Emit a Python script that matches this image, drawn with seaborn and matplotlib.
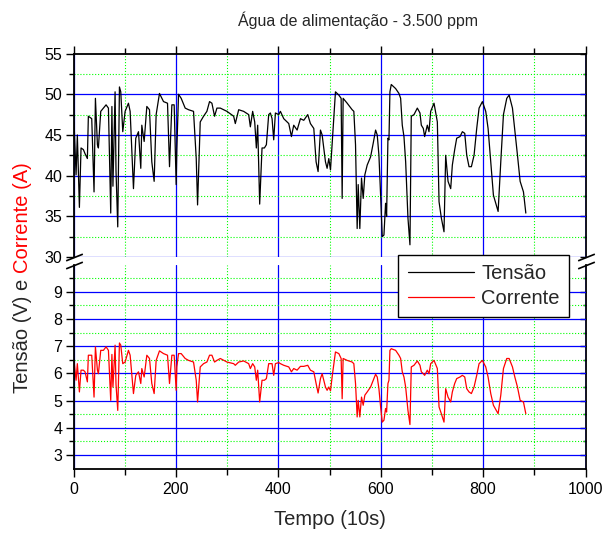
import matplotlib
matplotlib.use('Agg')
import matplotlib.pyplot as plt
from matplotlib.ticker import MultipleLocator, FixedLocator
import numpy as np
import pandas as pd
import seaborn as sns

# dados (tempo em unidades de 10 s)
tempo = [1, 5, 7.5, 11.5, 14.7, 19.3, 22.5, 27.1, 29, 35.6,
         40.1, 42.8, 46.7, 48.6, 53.2, 58.4, 63.6, 68.2, 72.7, 75,
         77, 81.2, 83, 86.4, 89.7, 92.3, 96.2, 100.8, 107.3, 110.6,
         117.1, 121.6, 126.9, 131.4, 133.4, 138, 143.2, 148.4, 152.9, 157.5,
         161.4, 167.9, 175.8, 183.6, 187.5, 192.1, 196.6, 200.5, 201.8, 205.1,
         210.3, 218.1, 224.7, 234.4, 239.7, 242.3, 247.5, 254, 260.5, 265.7,
         270.3, 275.5, 280.1,
         286.7, 299.7, 312.8, 316, 322.6, 332.3, 342.1, 345.4, 349.9, 353.9,
         357.1, 359.7, 363.6, 368.2, 372.8, 376.7, 381.2, 384.5, 387.8, 391,
         394.3, 400.8, 404.1, 410.6, 420.4, 425.6, 430.1, 436.7, 443.2, 449.7,
         457.5, 462.7, 469.3, 473.8, 477.7, 482.3, 485.6, 492.1, 495.3, 498.6,
         501.9, 505.1, 511.6, 518.2, 522.7, 524.7, 526.6, 534.5, 544.2, 547.5,
         550.8, 554, 556, 559.2, 562.5, 565.8, 569, 573.6,
         580.2, 585.4, 590, 593.2, 596.5, 599.8, 603, 606.3, 609.5, 611.5,
         614.1, 616.1, 618, 620.6, 629.1, 635.6, 638.9, 642.1, 645.4, 648.7,
         653.2, 657.1, 659.7, 665, 671.5, 676.7, 679.3, 683.2, 685.8, 691,
         694.3, 697.6, 704.1, 710.6, 713.9, 718.4, 723.6, 726.9, 731.5, 736.7,
         739.9, 744.5, 748.4, 754.9, 759.5, 764.1, 768, 772.5, 777.1, 782.3,
         787.5, 792.1, 798.6, 805.1, 809.7, 814.9, 820.1, 829.3, 834.5, 839.7,
         846.2, 850.8, 857.3, 861.9, 867.1, 872.3, 878.8, 883.4]

tensao = [46.6, 40.1, 45.0, 36.1, 43.4, 43.2, 42.7, 42.1, 47.3, 47.0,
          38.0, 49.5, 43.8, 43.4, 47.9, 48.3, 48.7, 48.3, 35.4, 48.5,
          38.7, 50.3, 40.6, 33.7, 50.9, 50.3, 45.4, 47.9, 48.9, 47.9,
          38.4, 44.6, 45.4, 40.9, 46.2, 44.2, 48.5, 48.1, 41.7, 39.3,
          47.5, 50.1, 49.1, 48.9, 41.1, 48.7, 48.7, 38.9, 43.2, 50.0,
          49.5, 48.3, 48.1, 47.9, 42.1, 36.4, 46.6, 47.3, 47.9, 49.1,
          48.9, 47.3, 48.3,
          48.3, 47.9, 47.3, 46.4, 48.1, 47.9, 47.5, 46.0, 47.9, 46.6,
          43.4, 46.2, 36.5, 43.4, 43.4, 43.8, 47.5, 47.7, 47.0, 44.4,
          47.7, 47.5, 47.9, 47.0, 46.4, 44.8, 46.2, 45.6, 47.0, 46.8,
          47.5, 46.4, 45.8, 41.7, 40.5, 45.6, 45.0, 41.7, 40.9, 42.1,
          40.7, 43.8, 50.3, 49.9, 49.5, 37.2, 49.5, 48.9, 48.1, 47.9,
          43.8, 33.5, 38.9, 33.5, 39.7, 37.2, 40.1, 41.3,
          42.3, 44.0, 45.6, 45.0, 42.5, 37.6, 32.5, 32.7, 36.6, 35.0,
          44.6, 44.4, 50.3, 51.2, 50.7, 50.1, 49.5, 46.2, 44.8, 41.7,
          34.8, 31.5, 47.3, 47.5, 48.3, 47.7, 46.2, 45.8, 44.8, 46.2,
          45.4, 47.9, 48.9, 46.6, 36.8, 34.8, 33.1, 42.5, 39.3, 38.4,
          41.3, 43.2, 44.6, 44.8, 45.4, 45.2, 42.5, 41.1, 41.1, 42.5,
          45.8, 48.3, 49.1, 47.9, 45.8, 41.7, 37.6, 35.6, 41.7, 47.5,
          49.5, 49.9, 48.3, 45.6, 42.5, 39.3, 38.0, 35.4]

corrente = [6.48, 5.75, 6.36, 5.32, 6.12, 6.12, 6.06, 5.69, 6.67, 6.67,
            5.13, 6.98, 6.12, 5.99, 6.85, 6.85, 6.98, 6.85, 5.01, 6.70,
            5.50, 7.04, 5.60, 4.64, 7.12, 7.04, 6.36, 6.42, 6.85, 6.67,
            5.26, 5.93, 6.06, 5.63, 6.18, 5.87, 6.67, 6.55, 5.63, 5.26,
            6.48, 6.83, 6.73, 6.67, 5.63, 6.67, 6.67, 5.38, 6.24, 6.73,
            6.73, 6.55, 6.48, 6.42, 5.75, 4.95, 6.24, 6.36, 6.42, 6.67,
            6.67, 6.42, 6.48,
            6.55, 6.42, 6.36, 6.30, 6.42, 6.46, 6.36, 6.18, 6.36, 6.24,
            5.75, 6.12, 4.95, 5.75, 5.75, 5.81, 6.36, 6.36, 6.36, 5.93,
            6.36, 6.40, 6.36, 6.30, 6.24, 6.06, 6.18, 6.12, 6.26, 6.26,
            6.30, 6.12, 6.06, 5.63, 5.28, 5.81, 5.99, 5.50, 5.38, 5.50,
            5.36, 5.87, 6.79, 6.73, 6.55, 5.07, 6.55, 6.48, 6.42, 6.36,
            5.63, 4.40, 5.01, 4.40, 5.13, 4.83, 5.20, 5.32,
            5.50, 5.75, 5.97, 5.87, 5.44, 4.77, 4.21, 4.28, 4.71, 4.58,
            5.63, 5.75, 6.85, 6.91, 6.85, 6.67, 6.55, 6.06, 5.87, 5.50,
            4.64, 4.12, 6.24, 6.30, 6.46, 6.30, 6.06, 5.99, 5.93, 6.12,
            5.99, 6.36, 6.48, 6.18, 4.77, 4.52, 4.21, 5.44, 5.13, 4.95,
            5.32, 5.63, 5.81, 5.87, 5.93, 5.87, 5.44, 5.32, 5.26, 5.50,
            5.93, 6.36, 6.48, 6.24, 5.87, 5.26, 4.83, 4.52, 5.20, 6.18,
            6.55, 6.55, 6.24, 5.87, 5.50, 5.01, 4.95, 4.52]

titulo = 'Água de alimentação - 3.500 ppm'
rotulos_legenda = ['Tensão', 'Corrente']

sns.set_style('ticks')
plt.rcParams['font.family'] = ['Liberation Sans', 'DejaVu Sans']
plt.rcParams['axes.edgecolor'] = 'black'
plt.rcParams['xtick.color'] = 'black'
plt.rcParams['ytick.color'] = 'black'

df = pd.DataFrame({'Tempo': tempo, 'Tensão': tensao, 'Corrente': corrente})

fig = plt.figure(figsize=(6.05, 5.38), dpi=100)
ax_top = fig.add_axes([0.1215, 0.5223, 0.8463, 0.3781])
ax_bot = fig.add_axes([0.1215, 0.1290, 0.8463, 0.3790])

sns.lineplot(data=df, x='Tempo', y='Tensão', ax=ax_top, color='black', linewidth=0.9, legend=False)
sns.lineplot(data=df, x='Tempo', y='Corrente', ax=ax_bot, color='red', linewidth=0.9, legend=False)
h_tensao = ax_top.lines[0]
h_corrente = ax_bot.lines[0]

ax_top.set_xlim(0, 1000)
ax_bot.set_xlim(0, 1000)
ax_top.set_ylim(30, 55)
ax_bot.set_ylim(2.5, 10)

ax_top.yaxis.set_major_locator(MultipleLocator(5))
ax_top.yaxis.set_minor_locator(MultipleLocator(2.5))
ax_bot.yaxis.set_major_locator(FixedLocator(np.arange(3, 10)))
ax_bot.yaxis.set_minor_locator(FixedLocator(np.arange(3.5, 10, 1)))
for ax in (ax_top, ax_bot):
    ax.xaxis.set_major_locator(MultipleLocator(200))
    ax.xaxis.set_minor_locator(MultipleLocator(100))
    ax.grid(which='major', color='#0000ff', linewidth=0.9)
    ax.grid(which='minor', color='#00ff00', linestyle=':', linewidth=0.8)
    ax.set_xlabel('')
    ax.set_ylabel('')
    ax.tick_params(axis='y', which='major', direction='out', length=6, width=1, labelsize=11.5, pad=2)
    ax.tick_params(axis='y', which='minor', direction='out', length=3.5, width=1)
    for s in ax.spines.values():
        s.set_linewidth(1.3)
    ax.spines['right'].set_visible(False)

# sem linha de grade no 30 (quebra do eixo)
for tk in ax_top.yaxis.get_major_ticks():
    if abs(tk.get_loc() - 30) < 1e-6:
        tk.gridline.set_visible(False)

ax_top.spines['bottom'].set_visible(False)
ax_bot.spines['top'].set_visible(False)
ax_top.tick_params(axis='x', which='both', top=True, bottom=False, labeltop=False, labelbottom=False, direction='out')
ax_top.tick_params(axis='x', which='major', length=6, width=1)
ax_top.tick_params(axis='x', which='minor', length=4, width=1)
ax_bot.tick_params(axis='x', which='both', top=False, bottom=True, direction='out')
ax_bot.tick_params(axis='x', which='major', length=6, width=1, labelsize=11.5, pad=4)
ax_bot.tick_params(axis='x', which='minor', length=4, width=1)

# eixo da direita com ticks para dentro
for ax, maj, mnr in [(ax_top, MultipleLocator(5), MultipleLocator(2.5)),
                     (ax_bot, FixedLocator(np.arange(3, 10)), FixedLocator(np.arange(3.5, 10, 1)))]:
    sec = ax.secondary_yaxis('right')
    sec.yaxis.set_major_locator(maj)
    sec.yaxis.set_minor_locator(mnr)
    sec.tick_params(axis='y', which='both', direction='in', labelright=False, width=1)
    sec.tick_params(axis='y', which='major', length=4)
    sec.tick_params(axis='y', which='minor', length=2.5)
    sec.spines['right'].set_linewidth(1.3)
    sec.spines['right'].set_color('black')

# marcas de quebra
kw = dict(marker=[(-1, -0.4), (1, 0.4)], markersize=12, linestyle='none',
          color='k', mec='k', mew=1.2, clip_on=False)
ax_top.plot([0, 1], [0, 0], transform=ax_top.transAxes, **kw)
ax_bot.plot([0, 1], [1, 1], transform=ax_bot.transAxes, **kw)

leg = ax_bot.legend([h_tensao, h_corrente], rotulos_legenda, loc='upper right',
                    bbox_to_anchor=(0.967, 1.0495), borderaxespad=0, fontsize=14.5,
                    frameon=True, fancybox=False, framealpha=1, edgecolor='black',
                    handlelength=3.3, handletextpad=0.35, labelspacing=0.3, borderpad=0.45)
leg.get_frame().set_linewidth(1.0)
ax_bot.set_zorder(3)

ax_bot.set_xlabel('Tempo (10s)', fontsize=14.5, labelpad=9)
fig.text(0.591, 0.963, titulo, ha='center', va='center', fontsize=11.5)

t1 = fig.text(0.038, 0.2695, 'Tensão (V) e ', rotation=90, ha='center', va='bottom', fontsize=14.5)
fig.canvas.draw()
bb = t1.get_window_extent()
fig.text(0.038, bb.y1 / fig.bbox.height, 'Corrente (A)', rotation=90, ha='center',
         va='bottom', fontsize=14.5, color='red')

fig.savefig('out.png', dpi=100)
